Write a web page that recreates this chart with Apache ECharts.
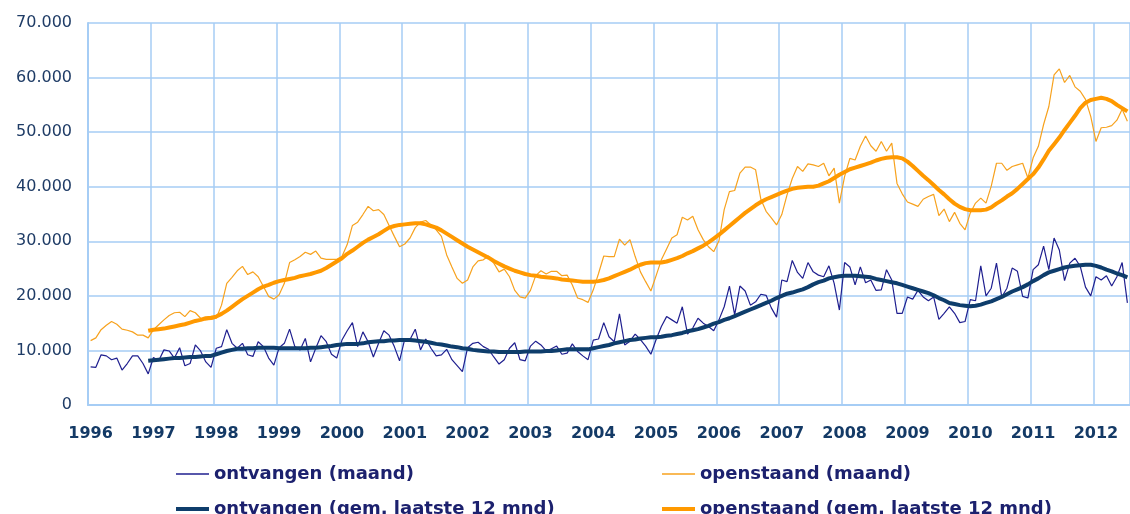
<!DOCTYPE html>
<html>
<head>
<meta charset="utf-8">
<title>ontvangen en openstaand</title>
<script src="https://cdn.jsdelivr.net/npm/echarts@6/dist/echarts.min.js"></script>
<style>
  html, body { margin: 0; padding: 0; background: #fff; }
  #chart { width: 1130px; height: 514px; }
</style>
</head>
<body>
<div id="chart"></div>
<script>
// maandcijfers in duizenden, jan 1996 t/m jul 2012
const startYear = 1996;
const monthCount = 199;

const ontvangenMaand = [
  7.0, 6.9, 9.2, 9.0, 8.3, 8.6, 6.4, 7.6, 9.0, 9.0, 7.6, 5.7,
  8.7, 8.1, 10.1, 9.9, 8.6, 10.5, 7.2, 7.6, 11.0, 9.9, 7.9, 6.9,
  10.4, 10.7, 13.8, 11.3, 10.4, 11.3, 9.2, 8.9, 11.6, 10.7, 8.6, 7.3,
  10.5, 11.3, 13.9, 10.7, 10.1, 12.2, 7.9, 10.4, 12.7, 11.6, 9.3, 8.6,
  11.9, 13.6, 15.1, 10.7, 13.4, 11.6, 8.8, 11.3, 13.6, 12.8, 10.7, 8.1,
  12.1, 12.0, 13.9, 10.1, 12.1, 10.4, 9.0, 9.2, 10.2, 8.3, 7.2, 6.1,
  10.5, 11.3, 11.5, 10.7, 10.2, 8.8, 7.5, 8.3, 10.4, 11.4, 8.3, 8.1,
  10.8, 11.7, 11.0, 9.9, 10.3, 10.8, 9.3, 9.5, 11.2, 9.8, 9.0, 8.3,
  11.9, 12.1, 15.1, 12.5, 11.6, 16.7, 11.0, 11.7, 13.0, 12.0, 10.8, 9.3,
  12.0, 14.4, 16.2, 15.6, 15.0, 18.0, 13.0, 14.1, 15.9, 15.0, 14.4, 13.6,
  15.6, 18.0, 21.8, 16.5, 21.8, 20.9, 18.3, 18.9, 20.3, 20.1, 17.8, 16.1,
  22.9, 22.6, 26.5, 24.3, 23.2, 26.1, 24.4, 23.8, 23.5, 25.5, 22.3, 17.4,
  26.1, 25.3, 22.0, 25.3, 22.4, 22.9, 21.0, 21.1, 24.8, 22.9, 16.8, 16.8,
  19.8, 19.4, 21.0, 19.8, 19.1, 19.8, 15.7, 16.8, 18.0, 16.8, 15.1, 15.3,
  19.3, 19.1, 25.5, 20.0, 21.4, 26.0, 19.8, 21.4, 25.1, 24.5, 19.9, 19.6,
  24.8, 25.7, 29.1, 24.8, 30.6, 28.4, 22.8, 26.0, 26.9, 25.4, 21.6, 20.0,
  23.5, 22.9, 23.7, 21.8, 23.5, 26.1, 18.7
];

const openstaandMaand = [
  11.8, 12.3, 13.8, 14.6, 15.3, 14.8, 13.9, 13.7, 13.4, 12.8, 12.8, 12.3,
  13.8, 14.7, 15.6, 16.4, 16.9, 17.0, 16.2, 17.3, 16.9, 15.9, 15.6, 15.7,
  15.9, 18.3, 22.3, 23.4, 24.6, 25.4, 23.9, 24.4, 23.5, 21.7, 19.9, 19.4,
  20.2, 22.3, 26.1, 26.6, 27.2, 28.0, 27.6, 28.2, 26.9, 26.7, 26.7, 26.7,
  27.2, 29.4, 32.9, 33.5, 34.9, 36.4, 35.6, 35.8, 34.9, 32.9, 30.9, 29.0,
  29.5, 30.6, 32.5, 33.5, 33.8, 33.0, 32.1, 30.9, 27.5, 25.3, 23.2, 22.3,
  22.9, 25.3, 26.4, 26.6, 27.3, 26.0, 24.4, 24.9, 23.5, 21.0, 19.8, 19.6,
  21.0, 23.7, 24.6, 24.0, 24.5, 24.5, 23.7, 23.8, 22.0, 19.6, 19.3, 18.8,
  21.1, 24.1, 27.3, 27.2, 27.2, 30.4, 29.3, 30.3, 27.2, 24.4, 22.6, 20.9,
  23.7, 26.6, 28.6, 30.6, 31.2, 34.4, 33.9, 34.6, 32.1, 30.3, 29.0, 28.1,
  30.1, 35.8, 39.1, 39.3, 42.5, 43.6, 43.6, 43.1, 37.7, 35.5, 34.3, 33.0,
  34.9, 38.5, 41.5, 43.7, 42.8, 44.2, 44.0, 43.7, 44.3, 42.0, 43.4, 37.0,
  41.9, 45.2, 44.9, 47.4, 49.3, 47.5, 46.5, 48.3, 46.5, 48.0, 40.6, 38.7,
  37.2, 36.8, 36.4, 37.7, 38.2, 38.6, 34.7, 35.9, 33.6, 35.3, 33.3, 32.1,
  35.2, 37.0, 37.9, 37.0, 40.1, 44.3, 44.3, 43.0, 43.7, 44.0, 44.3, 41.6,
  45.3, 47.4, 51.4, 54.7, 60.5, 61.6, 59.1, 60.4, 58.3, 57.5, 56.0, 52.9,
  48.3, 50.8, 50.9, 51.2, 52.2, 54.2, 52.0
];

// gem. laatste 12 mnd, begint bij dec 1996 (index 11)
const gemStart = 11;

const ontvangenGem = [
  8.1, 8.2, 8.3, 8.4, 8.5, 8.6, 8.6, 8.7, 8.8, 8.8, 8.9, 9.0, 9.0,
  9.3, 9.6, 9.9, 10.1, 10.3, 10.3, 10.4, 10.4, 10.5, 10.5, 10.5, 10.5,
  10.4, 10.4, 10.4, 10.4, 10.4, 10.4, 10.5, 10.5, 10.6, 10.7, 10.8, 11.0,
  11.1, 11.2, 11.2, 11.2, 11.3, 11.5, 11.6, 11.7, 11.7, 11.8, 11.8, 11.9,
  11.9, 11.9, 11.8, 11.7, 11.6, 11.4, 11.2, 11.1, 10.9, 10.7, 10.6, 10.4,
  10.3, 10.1, 10.0, 9.9, 9.8, 9.8, 9.7, 9.7, 9.7, 9.7, 9.7, 9.8,
  9.8, 9.8, 9.8, 9.9, 9.9, 10.0, 10.1, 10.2, 10.2, 10.2, 10.2, 10.2,
  10.4, 10.6, 10.8, 11.0, 11.3, 11.5, 11.7, 11.9, 12.0, 12.2, 12.3, 12.4,
  12.4, 12.5, 12.7, 12.8, 13.0, 13.2, 13.5, 13.7, 13.9, 14.2, 14.5, 14.9,
  15.2, 15.6, 15.9, 16.3, 16.7, 17.1, 17.5, 17.9, 18.3, 18.7, 19.1, 19.6,
  20.0, 20.4, 20.6, 20.9, 21.2, 21.6, 22.1, 22.5, 22.8, 23.2, 23.4, 23.6,
  23.7, 23.7, 23.7, 23.6, 23.5, 23.4, 23.1, 22.9, 22.7, 22.5, 22.3, 22.0,
  21.7, 21.4, 21.1, 20.8, 20.5, 20.1, 19.6, 19.2, 18.7, 18.5, 18.3, 18.2,
  18.1, 18.2, 18.4, 18.7, 19.0, 19.4, 19.8, 20.3, 20.8, 21.2, 21.6, 22.1,
  22.7, 23.2, 23.8, 24.3, 24.6, 24.9, 25.2, 25.4, 25.5, 25.6, 25.7, 25.7,
  25.5, 25.2, 24.8, 24.5, 24.1, 23.8, 23.4
];

const openstaandGem = [
  13.6, 13.8, 13.9, 14.0, 14.2, 14.4, 14.6, 14.8, 15.1, 15.4, 15.6, 15.9, 16.0,
  16.2, 16.7, 17.3, 18.0, 18.7, 19.4, 20.0, 20.6, 21.2, 21.7, 22.0, 22.4,
  22.7, 22.9, 23.1, 23.3, 23.6, 23.8, 24.0, 24.3, 24.6, 25.1, 25.7, 26.3,
  26.9, 27.7, 28.3, 29.0, 29.7, 30.3, 30.8, 31.3, 31.9, 32.5, 32.8, 33.0,
  33.1, 33.2, 33.3, 33.3, 33.1, 32.8, 32.5, 32.0, 31.4, 30.8, 30.2, 29.6,
  29.0, 28.5, 28.0, 27.5, 27.0, 26.4, 25.9, 25.4, 25.0, 24.6, 24.3, 24.0,
  23.8, 23.7, 23.5, 23.4, 23.3, 23.2, 23.0, 22.9, 22.8, 22.7, 22.6, 22.6,
  22.6, 22.7, 22.9, 23.2, 23.6, 24.0, 24.4, 24.8, 25.3, 25.7, 26.0, 26.1,
  26.1, 26.1, 26.3, 26.6, 26.9, 27.3, 27.8, 28.2, 28.7, 29.2, 29.8, 30.5,
  31.2, 32.0, 32.8, 33.6, 34.4, 35.2, 35.9, 36.6, 37.2, 37.7, 38.1, 38.5,
  38.9, 39.3, 39.6, 39.8, 39.9, 40.0, 40.0, 40.2, 40.6, 41.0, 41.6, 42.2,
  42.7, 43.2, 43.5, 43.8, 44.1, 44.4, 44.8, 45.1, 45.3, 45.4, 45.4, 45.2,
  44.6, 43.8, 42.9, 42.0, 41.2, 40.3, 39.4, 38.6, 37.7, 36.9, 36.3, 35.9,
  35.7, 35.7, 35.7, 35.8, 36.2, 36.9, 37.5, 38.2, 38.8, 39.6, 40.5, 41.4,
  42.3, 43.5, 45.0, 46.6, 47.8, 49.0, 50.4, 51.7, 53.0, 54.4, 55.4, 55.9,
  56.1, 56.3, 56.1, 55.7, 55.0, 54.4, 53.8
];

const yTicks = [0, 10, 20, 30, 40, 50, 60, 70];

const seriesNames = [
  'ontvangen (maand)',
  'openstaand (maand)',
  'ontvangen (gem. laatste 12 mnd)',
  'openstaand (gem. laatste 12 mnd)'
];

// maand-categorieen
let months = [];
for (let i = 0; i < monthCount; i++) {
  let y = startYear + Math.floor(i / 12);
  let m = (i % 12) + 1;
  months.push(y + '-' + (m < 10 ? '0' + m : m));
}

function padGem(arr) {
  return new Array(gemStart).fill(null).concat(arr);
}

const gridColor = '#a6cdf5';
const bandWidth = 5.245;

let myChart = echarts.init(document.getElementById('chart'), null, { renderer: 'canvas' });

function legendItem(name, left, top, color, h) {
  return {
    data: [{ name: name, icon: 'rect', itemStyle: { color: color } }],
    left: left,
    top: top,
    itemWidth: 33,
    itemHeight: h,
    itemGap: 0,
    selectedMode: false,
    textStyle: {
      fontFamily: 'DejaVu Sans',
      fontWeight: 'bold',
      fontSize: 18,
      color: '#1c216e'
    }
  };
}

let option = {
  animation: false,
  backgroundColor: '#ffffff',
  grid: {
    left: 88,
    top: 23,
    width: bandWidth * monthCount,
    bottom: 109
  },
  legend: [
    legendItem(seriesNames[0], 171, 460, '#1f1f8f', 1.5),
    legendItem(seriesNames[1], 657, 460, '#f7a21e', 1.5),
    legendItem(seriesNames[2], 171, 495, '#0e3d6b', 4),
    legendItem(seriesNames[3], 657, 495, '#ff9900', 4)
  ],
  xAxis: {
    type: 'category',
    data: months,
    boundaryGap: true,
    axisLine: { show: true, lineStyle: { color: gridColor, width: 2 } },
    axisTick: { show: false, interval: 11 },
    axisLabel: {
      interval: 11,
      margin: 21,
      fontFamily: 'DejaVu Sans',
      fontWeight: 'bold',
      fontSize: 16,
      color: '#143a66',
      formatter: function (value) {
        return value.slice(0, 4);
      }
    },
    splitLine: { show: true, interval: 11, lineStyle: { color: gridColor, width: 1.5 } }
  },
  yAxis: {
    type: 'value',
    min: yTicks[0],
    max: yTicks[yTicks.length - 1],
    interval: yTicks[1] - yTicks[0],
    axisLine: { show: true, lineStyle: { color: gridColor, width: 2 } },
    axisTick: { show: false },
    axisLabel: {
      margin: 16,
      fontFamily: 'DejaVu Sans',
      fontSize: 16,
      color: '#1f3c66',
      formatter: function (v) {
        return v === 0 ? '0' : v + '.000';
      }
    },
    splitLine: { show: true, lineStyle: { color: gridColor, width: 1.5 } }
  },
  series: [
    {
      name: seriesNames[0],
      type: 'line',
      data: ontvangenMaand,
      showSymbol: false,
      lineStyle: { color: '#1f1f8f', width: 1.2 },
      itemStyle: { color: '#1f1f8f' }
    },
    {
      name: seriesNames[1],
      type: 'line',
      data: openstaandMaand,
      showSymbol: false,
      lineStyle: { color: '#f7a21e', width: 1.2 },
      itemStyle: { color: '#f7a21e' }
    },
    {
      name: seriesNames[2],
      type: 'line',
      data: padGem(ontvangenGem),
      showSymbol: false,
      lineStyle: { color: '#0e3d6b', width: 4 },
      itemStyle: { color: '#0e3d6b' }
    },
    {
      name: seriesNames[3],
      type: 'line',
      data: padGem(openstaandGem),
      showSymbol: false,
      lineStyle: { color: '#ff9900', width: 4 },
      itemStyle: { color: '#ff9900' }
    }
  ]
};

myChart.setOption(option);
</script>
</body>
</html>
